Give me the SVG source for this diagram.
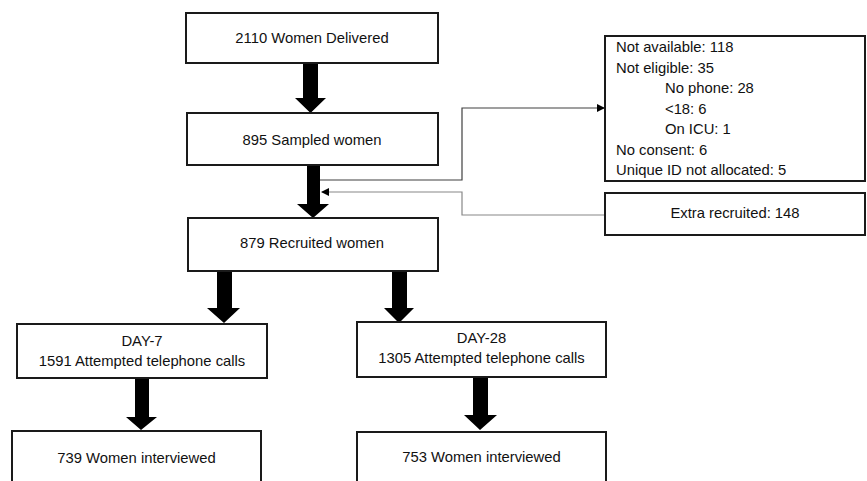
<svg xmlns="http://www.w3.org/2000/svg" width="867" height="481" viewBox="0 0 867 481">
<defs>
<style>
.box{fill:#fff;stroke:#1a1a1a;stroke-width:2}
.t{font-family:"Liberation Sans",Arial,sans-serif;font-size:14.8px;fill:#111}
.c{text-anchor:middle}
.big{fill:#000}
.ln1{fill:none;stroke:#404040;stroke-width:1.2}
.ln2{fill:none;stroke:#888;stroke-width:1.2}
</style>
<marker id="ah1" markerWidth="8" markerHeight="8" refX="7" refY="4" orient="auto" markerUnits="userSpaceOnUse">
<path d="M0,0 L8,4 L0,8 Z" fill="#000"/>
</marker>
<marker id="ah2" markerWidth="8" markerHeight="8" refX="7" refY="4" orient="auto" markerUnits="userSpaceOnUse">
<path d="M0,0 L8,4 L0,8 Z" fill="#000"/>
</marker>
</defs>
<rect width="867" height="481" fill="#fff"/>
<g id="connectors">
<polygon class="big" points="303,63 318,63 318,98 326,98 310.5,113 295,98 303,98"/>
<polygon class="big" points="307,165 320,165 320,204 329,204 313,218 297,204 307,204"/>
<polygon class="big" points="217,271 232,271 232,308 240,308 224,323 207,308 217,308"/>
<polygon class="big" points="392,268 407,268 407,308 414,308 399,323 384,308 392,308"/>
<polygon class="big" points="135,378 149,378 149,417 157,417 141,430 126,417 135,417"/>
<polygon class="big" points="473,377 488,377 488,415 497,415 480,430 464,415 473,415"/>
<polyline class="ln1" points="320,180 462,180 462,108 604,108" marker-end="url(#ah1)"/>
<polyline class="ln2" points="605,215 462,215 462,192 322,192" marker-end="url(#ah2)"/>
</g>
<g id="n1"><rect class="box" x="186" y="13" width="252" height="50"/><text class="t c" x="312" y="43">2110 Women Delivered</text></g>
<g id="n2"><rect class="box" x="187" y="113" width="251" height="52"/><text class="t c" x="312" y="145">895 Sampled women</text></g>
<g id="n3"><rect class="box" x="188" y="218" width="250" height="53"/><text class="t c" x="312" y="248">879 Recruited women</text></g>
<g id="n4"><rect class="box" x="17" y="324" width="250" height="54"/><text class="t c" x="142" y="346">DAY-7</text><text class="t c" x="142" y="366">1591 Attempted telephone calls</text></g>
<g id="n5"><rect class="box" x="357" y="322" width="249" height="55"/><text class="t c" x="481.5" y="343">DAY-28</text><text class="t c" x="481.5" y="363">1305 Attempted telephone calls</text></g>
<g id="n6"><rect class="box" x="12" y="431" width="249" height="60"/><text class="t c" x="136.5" y="463">739 Women interviewed</text></g>
<g id="n7"><rect class="box" x="357" y="432" width="249" height="60"/><text class="t c" x="481.5" y="462">753 Women interviewed</text></g>
<g id="n8"><rect class="box" x="605" y="36" width="260" height="145"/>
<text class="t" x="616" y="52">Not available: 118</text>
<text class="t" x="616" y="72.5">Not eligible: 35</text>
<text class="t" x="665" y="93">No phone: 28</text>
<text class="t" x="665" y="113.5">&lt;18: 6</text>
<text class="t" x="665" y="134">On ICU: 1</text>
<text class="t" x="616" y="154.5">No consent: 6</text>
<text class="t" x="616" y="175">Unique ID not allocated: 5</text>
</g>
<g id="n9"><rect class="box" x="605" y="193" width="260" height="42"/><text class="t c" x="735" y="218">Extra recruited: 148</text></g>
</svg>
